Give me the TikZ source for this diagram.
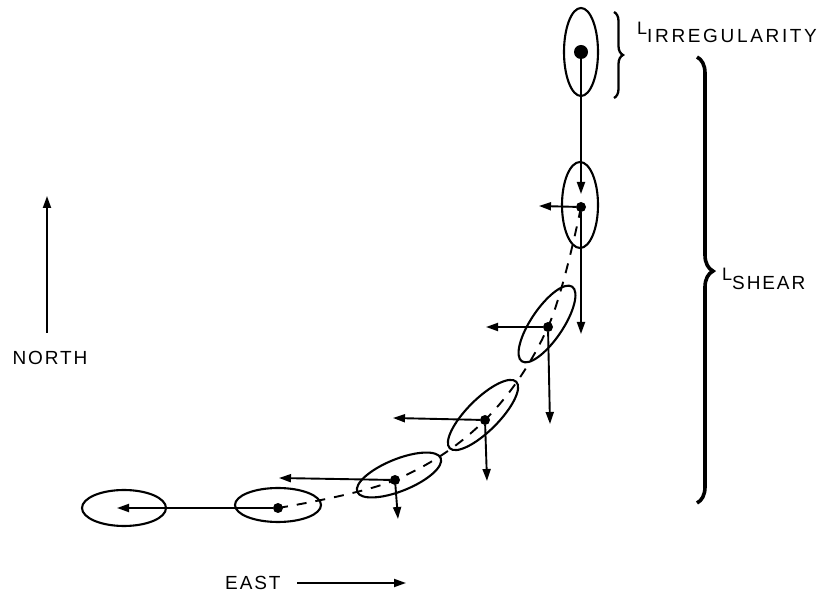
\documentclass[tikz,border=0pt]{standalone}
\usepackage{fontspec}
\setmainfont{Liberation Sans}[LetterSpace=10]
\usetikzlibrary{arrows.meta,decorations.pathreplacing}
\newcommand{\smallcap}{\fontsize{18}{20}\selectfont}
\begin{document}
\begin{tikzpicture}[x=1pt,y=-1pt,
  track/.style={line width=2.1pt},
  vec/.style={line width=1.9pt,-{Triangle[length=12pt,width=8pt]}},
  dot/.style={circle,fill,inner sep=0pt,minimum size=10pt},
  bigdot/.style={circle,fill,inner sep=0pt,minimum size=14pt},
  lbl/.style={font=\fontsize{19}{22}\selectfont,inner sep=0pt}
]
\useasboundingbox (0,0) rectangle (828,593);

% parcel ellipses along the sheared track
\draw[track] (581,52) ellipse [x radius=17, y radius=44];
\draw[track] (580,205) ellipse [x radius=18, y radius=43];
\draw[track, shift={(547,324)}, rotate=56] (0,0) ellipse [x radius=45, y radius=16];
\draw[track, shift={(483,415)}, rotate=45] (0,0) ellipse [x radius=47, y radius=16];
\draw[track, shift={(399,475)}, rotate=22] (0,0) ellipse [x radius=45, y radius=16];
\draw[track] (278,505) ellipse [x radius=43, y radius=17];
\draw[track] (124,508) ellipse [x radius=42, y radius=18];

% parcel centres
\node[bigdot] (d1) at (581,52) {};
\node[dot] (d2) at (581,207) {};
\node[dot] (d3) at (548,327) {};
\node[dot] (d4) at (485,420) {};
\node[dot] (d5) at (395,480) {};
\node[dot] (d6) at (278,508) {};

% dashed centre line
\draw[line width=1.9pt, dash pattern=on 10pt off 9pt]
  plot[smooth, tension=0.6] coordinates {(d6.center) (d5.center) (d4.center) (d3.center) (d2.center)};

% displacement vectors
\coordinate (s1) at (581,194);
\coordinate (w2) at (539,206);
\coordinate (s2) at (581,334);
\coordinate (w3) at (486,327);
\coordinate (s3) at (550,424);
\coordinate (w4) at (393,418);
\coordinate (s4) at (487,481);
\coordinate (w5) at (279,478);
\coordinate (s5) at (398,519);
\coordinate (w6) at (117,508);
\draw[vec] (d1) -- (s1);
\draw[vec] (d2) -- (w2);
\draw[vec] (d2) -- (s2);
\draw[vec] (d3) -- (w3);
\draw[vec] (d3) -- (s3);
\draw[vec] (d4) -- (w4);
\draw[vec] (d4) -- (s4);
\draw[vec] (d5) -- (w5);
\draw[vec] (d5) -- (s5);
\draw[vec] (d6) -- (w6);

% braces
\coordinate (bi1) at (614,12);
\coordinate (bi2) at (614,98);
\draw[line width=2.3pt, decorate, decoration={brace, amplitude=9pt, aspect=0.5}] (bi1) -- (bi2);
\coordinate (bs1) at (697,57);
\coordinate (bs2) at (697,503);
\draw[line width=3.6pt, decorate, decoration={brace, amplitude=16pt, aspect=0.48}] (bs1) -- (bs2);

% length-scale labels
\node[lbl, anchor=base west] (lirr) at (637,35)
  {{\smallcap L}\raisebox{-8pt}{\addfontfeatures{LetterSpace=14}IRREGULARITY}};
\node[lbl, anchor=base west] (lshear) at (722,281)
  {{\smallcap L}\raisebox{-9pt}{SHEAR}};

% compass
\node[lbl, anchor=base] (north) at (50,365) {NORTH};
\coordinate (n1) at (47,333);
\coordinate (n2) at (47,196);
\draw[vec] (n1) -- (n2);
\node[lbl, anchor=base west] (east) at (225,589) {EAST};
\coordinate (e1) at (297,583);
\coordinate (e2) at (406,583);
\draw[vec] (e1) -- (e2);
\end{tikzpicture}
\end{document}
